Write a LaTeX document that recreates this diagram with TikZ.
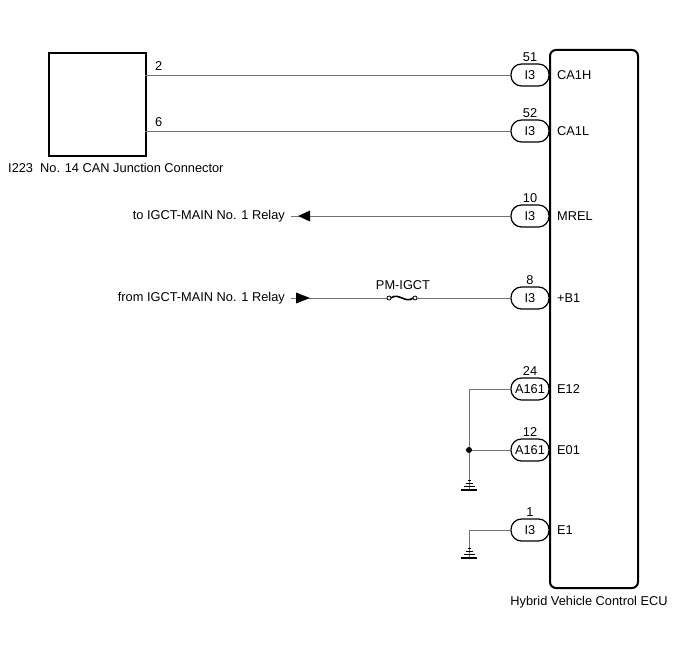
\documentclass[tikz,border=0pt]{standalone}
\usepackage{fontspec}
\setmainfont{Liberation Sans}
\usetikzlibrary{arrows.meta}
\begin{document}
\begin{tikzpicture}[x=1pt,y=-1pt,
  every node/.style={font=\fontsize{12.8}{15}\selectfont, inner sep=0pt},
  wire/.style={draw=black!55, line width=0.9pt},
  pin/.style={draw=black, line width=1.2pt, rounded corners=10.5pt, minimum width=38pt, minimum height=22pt, fill=white},
  lbl/.style={anchor=west},
  num/.style={anchor=south},
  gbar/.style={draw=black, line width=1pt}
]
\useasboundingbox (0,0) rectangle (688,658);
% junction connector box
\node[draw=black, line width=2.4pt, minimum width=97pt, minimum height=103pt, anchor=north west] (jc) at (48,52) {};
\node[anchor=west] (jcl) at (8,168) {I223\ \ No. 14 CAN Junction Connector};
% ECU
\draw[line width=2pt, rounded corners=6pt] (550,50) rectangle (638,588);
\node (ecul) at (589,602) {Hybrid Vehicle Control ECU};
% pins
\foreach \n/\y/\c/\p/\s in {p51/75/I3/51/CA1H, p52/131/I3/52/CA1L, p10/216/I3/10/MREL, p8/298/I3/8/+B1, p24/389/A161/24/E12, p12/450/A161/12/E01, p1/530/I3/1/E1}{
  \node[pin] (\n) at (530,\y) {\c};
  \node[num] (\n num) at (530,\y-13.5) {\p};
  \node[lbl] (\n lbl) at (557,\y) {\s};
}
% CAN wires
\coordinate (j2) at (145,75);
\coordinate (j6) at (145,131);
\draw[wire] (j2) -- (p51.west);
\draw[wire] (j6) -- (p52.west);
\node[anchor=south west] (n2) at (155,71) {2};
\node[anchor=south west] (n6) at (155,127) {6};
% MREL
\node[anchor=east] (tol) at (285,216) {to IGCT-MAIN No. 1 Relay};
\coordinate (ma) at (291,216);
\coordinate (mt) at (298,216);
\draw[wire] (p10.west) -- (ma);
\fill (mt) -- ++(12,-5.5) -- ++(0,11) -- cycle;
% +B1
\node[anchor=east] (froml) at (285,298) {from IGCT-MAIN No. 1 Relay};
\coordinate (ba) at (291,298);
\coordinate (f1) at (389,298);
\coordinate (f2) at (415,298);
\draw[wire] (ba) -- ([xshift=-2pt]f1);
\draw[wire] ([xshift=2pt]f2) -- (p8.west);
\fill (296,292.5) -- (310,298) -- (296,303.5) -- cycle;
\draw[line width=0.8pt] (f1) circle (2pt) (f2) circle (2pt);
\draw[line width=1.6pt] ([xshift=2pt]f1) .. controls (398,292) and (406,304) .. ([xshift=-2pt]f2);
\node (fl) at (403,285) {PM-IGCT};
% grounds
\coordinate (gA) at (469,389);
\coordinate (gdot) at (469,450);
\coordinate (gA2) at (469,490);
\draw[wire] (p24.west) -- (gA) -- (gA2);
\draw[wire] (p12.west) -- (gdot);
\fill (gdot) circle (3pt);
\coordinate (gB) at (469,530);
\coordinate (gB2) at (469,558);
\draw[wire] (p1.west) -- (gB) -- (gB2);
\foreach \g in {gA2,gB2}{
  \draw[line width=1.8pt] ([xshift=-8pt]\g) -- ([xshift=8pt]\g);
  \draw[gbar] ([xshift=-5.5pt,yshift=3.5pt]\g) -- ([xshift=5.5pt,yshift=3.5pt]\g);
  \draw[gbar] ([xshift=-3.5pt,yshift=6.5pt]\g) -- ([xshift=3.5pt,yshift=6.5pt]\g);
  \draw[gbar] ([xshift=-1.5pt,yshift=9.5pt]\g) -- ([xshift=1.5pt,yshift=9.5pt]\g);
}
\end{tikzpicture}
\end{document}
